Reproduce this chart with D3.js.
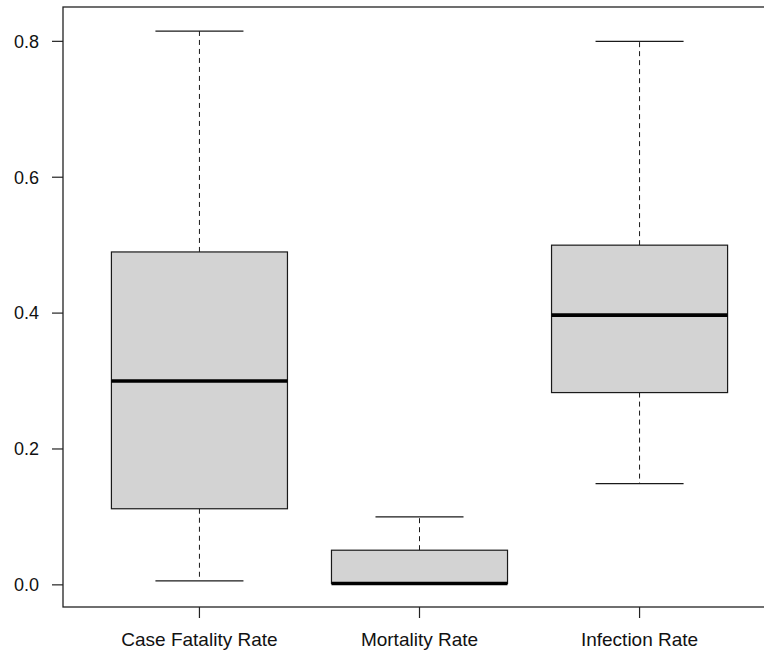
<!DOCTYPE html>
<html>
<head>
<meta charset="utf-8">
<script src="https://cdn.jsdelivr.net/npm/d3@7"></script>
<style>
  html, body { margin: 0; padding: 0; background: #fff; }
  svg { display: block; }
</style>
</head>
<body>
<script>
const categories = ["Case Fatality Rate", "Mortality Rate", "Infection Rate"];
const whiskerLow  = [0.006, 0.002, 0.149];
const q1          = [0.112, 0.002, 0.283];
const median      = [0.300, 0.002, 0.397];
const q3          = [0.490, 0.051, 0.500];
const whiskerHigh = [0.815, 0.100, 0.800];
const yTicks = [0.0, 0.2, 0.4, 0.6, 0.8];

const W = 764, H = 656;
const svg = d3.select("body").append("svg").attr("width", W).attr("height", H);

const x = d3.scaleLinear().domain([0.38, 3.62]).range([63, 776]);
const y = d3.scaleLinear().domain([-0.0326, 0.8476]).range([607, 9]);

const boxHalf = (x(1.4) - x(1));   // boxwex 0.8
const capHalf = boxHalf / 2;

const data = categories.map((c, i) => ({
  c, i: i + 1, lo: whiskerLow[i], q1: q1[i], med: median[i], q3: q3[i], hi: whiskerHigh[i]
}));

const g = svg.append("g");
const stroke = "#1a1a1a";

data.forEach(d => {
  const cx = x(d.i);
  g.append("line").attr("x1", cx).attr("x2", cx).attr("y1", y(d.q3)).attr("y2", y(d.hi))
    .attr("stroke", stroke).attr("stroke-width", 1).attr("stroke-dasharray", "5,4");
  g.append("line").attr("x1", cx).attr("x2", cx).attr("y1", y(d.q1)).attr("y2", y(d.lo))
    .attr("stroke", stroke).attr("stroke-width", 1).attr("stroke-dasharray", "5,4");
  g.append("line").attr("x1", cx - capHalf).attr("x2", cx + capHalf).attr("y1", y(d.hi)).attr("y2", y(d.hi))
    .attr("stroke", stroke).attr("stroke-width", 1.2);
  g.append("line").attr("x1", cx - capHalf).attr("x2", cx + capHalf).attr("y1", y(d.lo)).attr("y2", y(d.lo))
    .attr("stroke", stroke).attr("stroke-width", 1.2);
  g.append("rect").attr("x", cx - boxHalf).attr("width", 2 * boxHalf)
    .attr("y", y(d.q3)).attr("height", y(d.q1) - y(d.q3))
    .attr("fill", "#d3d3d3").attr("stroke", stroke).attr("stroke-width", 1.2);
  g.append("line").attr("x1", cx - boxHalf).attr("x2", cx + boxHalf).attr("y1", y(d.med)).attr("y2", y(d.med))
    .attr("stroke", "#000").attr("stroke-width", 3.6);
});

svg.append("rect").attr("x", x(0.38)).attr("y", 7).attr("width", x(3.62) - x(0.38)).attr("height", 600)
  .attr("fill", "none").attr("stroke", "#222").attr("stroke-width", 1.3);

const yAxis = svg.append("g").attr("font-family", "'Liberation Sans', Arial, sans-serif").attr("font-size", 18);
yTicks.forEach(t => {
  yAxis.append("line").attr("x1", x(0.38) - 11).attr("x2", x(0.38)).attr("y1", y(t)).attr("y2", y(t))
    .attr("stroke", "#222").attr("stroke-width", 1.2);
  yAxis.append("text").attr("x", x(0.38) - 24).attr("y", y(t)).attr("dy", "0.35em")
    .attr("text-anchor", "end").attr("fill", "#111").text(d3.format(".1f")(t));
});

const xAxis = svg.append("g").attr("font-family", "'Liberation Sans', Arial, sans-serif").attr("font-size", 19);
data.forEach(d => {
  xAxis.append("line").attr("x1", x(d.i)).attr("x2", x(d.i)).attr("y1", 607).attr("y2", 618)
    .attr("stroke", "#222").attr("stroke-width", 1.2);
  xAxis.append("text").attr("x", x(d.i)).attr("y", 646).attr("text-anchor", "middle")
    .attr("fill", "#111").text(d.c);
});
</script>
</body>
</html>
